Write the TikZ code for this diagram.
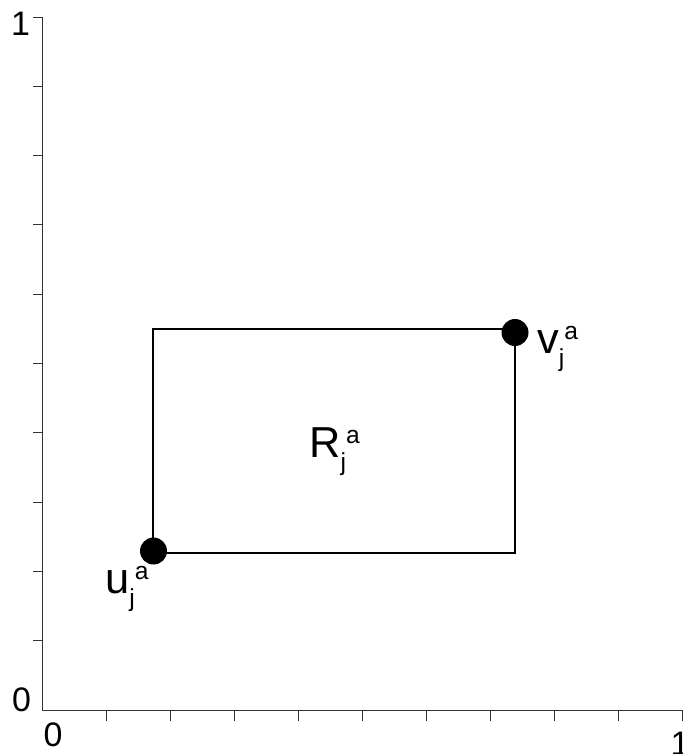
\documentclass[tikz,border=0pt]{standalone}
\usepackage{fontspec}
\setmainfont{Liberation Sans}
\usepackage{tikz}
\usetikzlibrary{positioning}
\newcommand{\axfont}{\fontsize{29}{31}\selectfont}
\newcommand{\labfont}{\fontsize{37}{40}\selectfont}
\newcommand{\idxfont}{\fontsize{21}{23}\selectfont}
\newcommand{\ja}{\raisebox{-0.39cm}{\idxfont j}\raisebox{0.42cm}{\idxfont a}}

\begin{document}
\begin{tikzpicture}[
  x=0.03cm, y=-0.03cm,
  axis/.style={draw=black!80, line width=0.85pt},
  frame/.style={draw=black, line width=1pt},
  dot/.style={circle, fill=black, inner sep=0pt, minimum size=0.81cm},
  num/.style={font=\axfont, inner sep=0pt},
  lab/.style={font=\labfont, inner sep=0pt, anchor=base west}]
  \useasboundingbox (0,0) rectangle (683,754);
  \coordinate (origin) at (42,710);
  \coordinate (ytop) at (42,17);
  \coordinate (xend) at (682,710);
  \draw[axis] (ytop) -- (origin) -- (xend);
  \foreach \k in {0,...,9}
    \draw[axis] (ytop) ++(0,{69.3*\k}) -- ++(-9,0);
  \foreach \k in {1,...,10}
    \draw[axis] (origin) ++({64*\k},0) -- ++(0,11);
  \node[num] (y1) at (20.5,23.5) {1};
  \node[num] (y0) at (21.5,700) {0};
  \node[num] (x0) at (53,735) {0};
  \node[num] (x1) at (680,744) {1};
  % box between the two corner points
  \coordinate (ll) at (153,553);
  \coordinate (ur) at (515,329);
  \draw[frame] (ll) rectangle (ur);
  \node[dot] (u) at (153.5,551) {};
  \node[dot] (v) at (515,332.5) {};
  \node[lab] (ulab) at (105,593) {u\ja};
  \node[lab] (vlab) at (537,353) {v\ja};
  \node[lab] (rlab) at (309,457) {R\ja};
\end{tikzpicture}
\end{document}
